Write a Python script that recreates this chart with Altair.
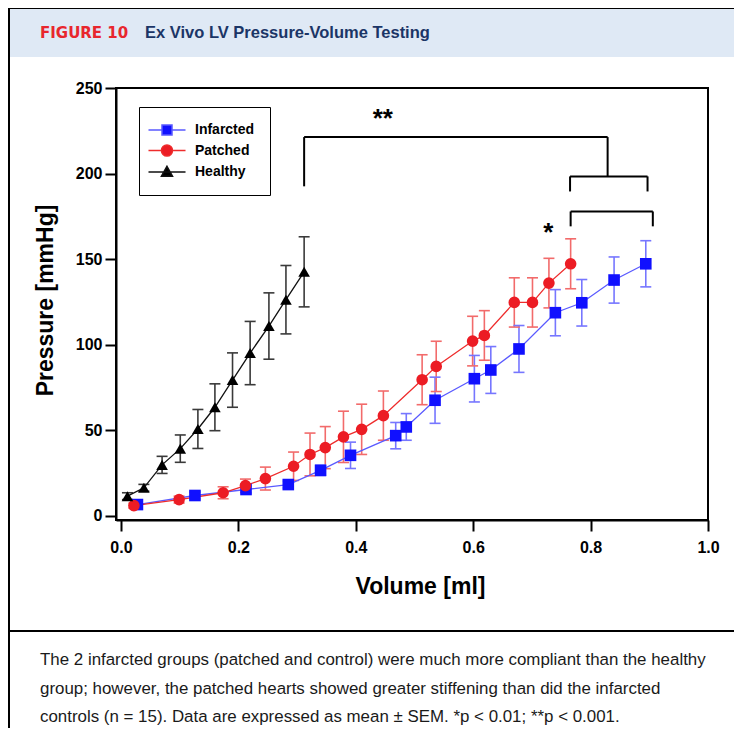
import altair as alt
import pandas as pd

# ---------------- data ----------------
groups = ["Infarcted", "Patched", "Healthy"]

inf_vol = [0.028, 0.126, 0.213, 0.285, 0.340, 0.391, 0.468, 0.486, 0.535, 0.602,
           0.630, 0.678, 0.740, 0.785, 0.840, 0.894]
inf_p = [6.4, 11.7, 15.2, 18.1, 26.4, 35.2, 46.7, 51.8, 67.4, 80.0,
         85.1, 97.4, 118.6, 124.4, 137.7, 147.2]
inf_sem = [1.5, 2, 2, 2, 3, 7.7, 7.7, 7.8, 13.5, 13.6,
           13.7, 13.7, 13.5, 13.6, 13.5, 13.5]

pat_vol = [0.022, 0.099, 0.174, 0.212, 0.246, 0.294, 0.322, 0.348, 0.379, 0.410,
           0.447, 0.513, 0.537, 0.599, 0.619, 0.670, 0.701, 0.729, 0.766]
pat_p = [5.8, 9.3, 13.3, 17.5, 21.6, 28.8, 35.7, 39.7, 46.0, 50.4,
         58.4, 79.4, 87.2, 102.0, 105.3, 124.6, 124.6, 135.9, 147.2]
pat_sem = [1.5, 2, 3.5, 3.8, 6.7, 8.3, 12.5, 12.3, 15, 14.7,
           14.4, 14.6, 14.7, 14.5, 14.5, 14.4, 14.4, 14.5, 14.6]

hea_vol = [0.011, 0.039, 0.070, 0.101, 0.131, 0.160, 0.190, 0.220, 0.252, 0.281, 0.312]
hea_p = [11.3, 16.2, 29.6, 39.1, 50.6, 63.3, 79.2, 95.0, 110.8, 126.2, 142.5]
hea_sem = [2, 2, 5, 8, 11.4, 13.7, 15.9, 18.5, 19.4, 20, 20.5]

# significance brackets (segments in data units)
br_x = [0.312, 0.312, 0.829, 0.765, 0.765, 0.897, 0.766, 0.766, 0.906]
br_x2 = [0.829, 0.312, 0.829, 0.897, 0.765, 0.897, 0.906, 0.766, 0.906]
br_y = [221.3, 221.3, 221.3, 198.3, 198.3, 198.3, 177.8, 177.8, 177.8]
br_y2 = [221.3, 192.5, 198.3, 198.3, 189.5, 189.5, 177.8, 169.1, 169.1]

star_x = [0.446, 0.728]
star_y = [227.3, 160.7]
star_txt = ["**", "*"]

x_ticks = [0.0, 0.2, 0.4, 0.6, 0.8, 1.0]
y_ticks = [0, 50, 100, 150, 200, 250]

header_tag = "FIGURE 10"
header_title = "Ex Vivo LV Pressure-Volume Testing"
caption = [
    "The 2 infarcted groups (patched and control) were much more compliant than the healthy",
    "group; however, the patched hearts showed greater stiffening than did the infarcted",
    "controls (n = 15). Data are expressed as mean \u00b1 SEM. *p < 0.01; **p < 0.001.",
]

# ---------------- tables ----------------
rows = []
for g, vs, ps, ss in [("Infarcted", inf_vol, inf_p, inf_sem),
                      ("Patched", pat_vol, pat_p, pat_sem),
                      ("Healthy", hea_vol, hea_p, hea_sem)]:
    for v, p, s in zip(vs, ps, ss):
        rows.append({"g": g, "vol": v, "p": p, "lo": p - s, "hi": p + s})
df = pd.DataFrame(rows)
br = pd.DataFrame({"bx": br_x, "bx2": br_x2, "by": br_y, "by2": br_y2})
stars = pd.DataFrame({"sx": star_x, "sy": star_y, "t": star_txt})
one = pd.DataFrame({"k": [0]})

FONT = "Liberation Sans"

xaxis = alt.Axis(values=x_ticks, format=".1f", title="Volume [ml]", grid=False,
                 titleFont=FONT, titleFontSize=23, titleFontWeight="bold",
                 titleX=304, titleY=66, titleBaseline="middle",
                 labelFont=FONT, labelFontSize=16, labelFontWeight="bold",
                 labelPadding=8, tickSize=11, labelFlush=False)
yaxis = alt.Axis(values=y_ticks, title="Pressure [mmHg]", grid=False,
                 titleFont=FONT, titleFontSize=23, titleFontWeight="bold",
                 titleX=-71, titleY=212, titleBaseline="middle",
                 labelFont=FONT, labelFontSize=16, labelFontWeight="bold",
                 labelPadding=3, tickSize=11, labelFlush=False)
xs = alt.Scale(domain=[-0.0085, 1.0], nice=False, zero=False)
ys = alt.Scale(domain=[-2.63, 250], nice=False, zero=False)


def X(f):
    return alt.X(f + ":Q", scale=xs, axis=xaxis)


def Y(f):
    return alt.Y(f + ":Q", scale=ys, axis=yaxis)


err_scale = alt.Scale(domain=groups, range=["#7676ff", "#f26b6b", "#3a3a3a"])
line_scale = alt.Scale(domain=groups, range=["#5a5aff", "#ee2c2c", "#111111"])
pt_scale = alt.Scale(domain=groups, range=["#1010ff", "#ec1c24", "#000000"])
shape_scale = alt.Scale(domain=groups, range=["square", "circle", "triangle-up"])
leg_shapes = alt.Scale(domain=groups, range=[
    "M-1.93,0H0M1.43,0H3.36M0,-0.71H1.43V0.71H0Z",
    "M-1.93,0H-0.08M1.5,0H3.36M-0.08,0A0.79,0.79,0,1,0,1.5,0A0.79,0.79,0,1,0,-0.08,0Z",
    "M-1.93,0H3.36M0.71,-0.8L1.5,0.6H-0.08Z",
])

base = alt.Chart(df)

err = base.mark_rule(strokeWidth=1.6).encode(
    x=X("vol"), y=Y("lo"), y2="hi:Q",
    color=alt.Color("g:N", scale=err_scale, legend=None))
cap_lo = base.mark_tick(orient="horizontal", size=11, thickness=1.6, opacity=1).encode(
    x=X("vol"), y=Y("lo"), color=alt.Color("g:N", scale=err_scale, legend=None))
cap_hi = base.mark_tick(orient="horizontal", size=11, thickness=1.6, opacity=1).encode(
    x=X("vol"), y=Y("hi"), color=alt.Color("g:N", scale=err_scale, legend=None))
lines = base.mark_line(strokeWidth=1.3).encode(
    x=X("vol"), y=Y("p"), order="vol:Q",
    color=alt.Color("g:N", scale=line_scale, legend=None))
pts = base.mark_point(filled=True, size=135, opacity=1).encode(
    x=X("vol"), y=Y("p"),
    fill=alt.Fill("g:N", scale=pt_scale, legend=None),
    shape=alt.Shape("g:N", scale=shape_scale, legend=None))

leg = alt.Legend(title=None, orient="none", legendX=23, legendY=19,
                 strokeColor="black", padding=15, labelFont=FONT,
                 labelFontWeight="bold", labelFontSize=14, labelColor="black",
                 labelOffset=25, rowPadding=3.5, symbolSize=196,
                 symbolStrokeWidth=1.5)
legend_layer = base.mark_point(filled=True, size=196, opacity=1, strokeWidth=1.5).encode(
    x=X("vol"), y=Y("p"),
    fill=alt.Fill("g:N", scale=pt_scale, legend=leg),
    stroke=alt.Stroke("g:N", scale=line_scale, legend=leg),
    shape=alt.Shape("g:N", scale=leg_shapes, legend=leg),
).transform_filter("false")

brackets = alt.Chart(br).mark_rule(color="black", strokeWidth=2).encode(
    x=X("bx"), x2="bx2:Q", y=Y("by"), y2="by2:Q")
star_marks = alt.Chart(stars).mark_text(font=FONT, fontSize=26, fontWeight="bold",
                                        baseline="alphabetic", color="black").encode(
    x=X("sx"), y=Y("sy"), text="t:N")


def deco_rect(x, x2, y, y2, color):
    return alt.Chart(one).mark_rect(color=color).encode(
        x=alt.value(x), x2=alt.value(x2), y=alt.value(y), y2=alt.value(y2))


def deco_rule(x, x2, y, y2, w):
    return alt.Chart(one).mark_rule(color="black", strokeWidth=w).encode(
        x=alt.value(x), x2=alt.value(x2), y=alt.value(y), y2=alt.value(y2))


def deco_text(x, y, txt, font, size, color, weight="normal"):
    return alt.Chart(one).mark_text(font=font, fontSize=size, fontWeight=weight,
                                    color=color, align="left", baseline="middle").encode(
        x=alt.value(x), y=alt.value(y), text=alt.value(txt))


deco = [
    deco_rect(-107, 640, -79, -31, "#dfe9f5"),
    deco_rule(-108, 640, -80, -80, 2),
    deco_rule(-107, -107, -80, 660, 2),
    deco_rule(-108, 640, 543, 543, 2),
    deco_text(-76, -55, header_tag, "DejaVu Sans", 15, "#e8262d", "bold"),
    deco_text(29, -55, header_title, FONT, 16.5, "#1b3566", "bold"),
    deco_text(-76, 572, caption[0], FONT, 16.9, "#1a1a1a"),
    deco_text(-76, 601, caption[1], FONT, 16.9, "#1a1a1a"),
    deco_text(-76, 629, caption[2], FONT, 16.9, "#1a1a1a"),
]

chart = alt.layer(
    *deco, err, cap_lo, cap_hi, lines, pts, legend_layer, brackets, star_marks
).resolve_scale(
    color="independent", fill="independent", stroke="independent", shape="independent"
).properties(
    width=592, height=432,
    autosize=alt.AutoSizeParams(type="none"),
    padding={"left": 108, "top": 80, "right": 26, "bottom": 208},
    background="white",
).configure_view(
    stroke="black", strokeWidth=2
).configure_axis(
    domainColor="black", domainWidth=2, tickColor="black", tickWidth=2,
    labelColor="black", titleColor="black"
)

chart.save("out.html", embed_options={"renderer": "svg", "actions": False})
